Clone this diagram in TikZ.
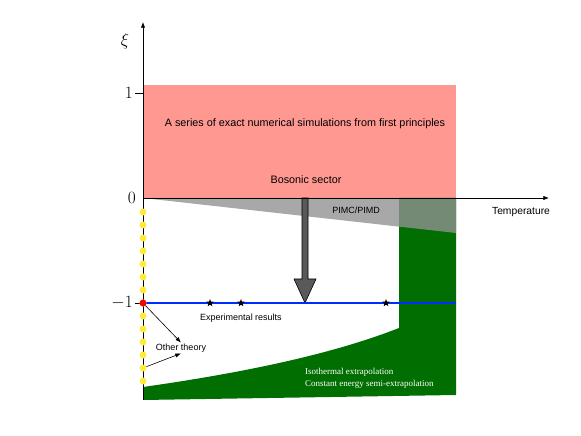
\documentclass[tikz,border=0pt]{standalone}
\usepackage{fontspec}
\setmainfont{Liberation Sans}
\newfontfamily\timesfont{Liberation Serif}
\usetikzlibrary{arrows.meta,shapes.geometric}

\definecolor{simpink}{RGB}{255,152,145}
\definecolor{pimcgray}{RGB}{146,146,146}
\definecolor{extgreen}{RGB}{0,110,0}
\definecolor{exblue}{RGB}{0,45,255}
\definecolor{dotyellow}{RGB}{255,235,60}

\begin{document}
\begin{tikzpicture}[
    x=1pt, y=1pt,
    >=Latex,
    lbl/.style={font=\fontsize{9}{11}\selectfont, inner sep=1pt},
    biglbl/.style={font=\fontsize{10.8}{13}\selectfont, inner sep=1pt},
    axlbl/.style={font=\fontsize{17}{19}\selectfont, inner sep=1pt},
    dot/.style={circle, fill=dotyellow, minimum size=7pt, inner sep=0pt},
    expstar/.style={star, star points=5, star point ratio=2.4,
        fill=black, minimum size=8pt, inner sep=0pt},
]

\useasboundingbox (-143,-238) rectangle (438,198);

% ── Regions ─────────────────────────────────────────────────
\fill[simpink] (0,0) rectangle (313,113);
\fill[extgreen] (256,0) -- (313,0) -- (313,-197) -- (0,-202) -- (0,-189)
    .. controls (120,-172) and (200,-152) .. (256,-130) -- cycle;
\fill[pimcgray, fill opacity=0.8] (0,0) -- (313,0) -- (313,-35) -- cycle;

% ── Big arrow down to xi = -1 ───────────────────────────────
\filldraw[fill=black!65, draw=black, line width=0.6pt]
    (159,0) -- (159,-81) -- (151,-81) -- (162,-105) -- (173,-81)
    -- (165,-81) -- (165,0) -- cycle;

% ── Experimental line ───────────────────────────────────────
\draw[exblue, line width=2.2pt] (0,-105) -- (313,-105);
\foreach \xs [count=\i] in {67, 98, 243} {
    \node[expstar] (star\i) at (\xs,-105) {};
}

% ── Axes ────────────────────────────────────────────────────
\draw[->, line width=0.6pt] (0,-202) -- (0,176);
\draw[->, line width=0.6pt] (0,0) -- (406,0);
\node[axlbl] (xi) at (-18,157) {$\xi$};
\draw[line width=0.6pt] (-8,105) -- (0,105) node[axlbl, pos=0, left=1pt] (one) {$1$};
\draw[line width=0.6pt] (-8,-105) -- (0,-105) node[axlbl, pos=0, left=1pt] (mone) {$-1$};
\node[axlbl, left=6pt] (zero) at (0,0) {$0$};

% ── Dots along the xi axis ──────────────────────────────────
\foreach \i in {0,...,13} {
    \node[dot] (d\i) at (0,{-14-13*\i}) {};
}
\node[dot, fill=red] (dred) at (0,-105) {};

% ── Labels ──────────────────────────────────────────────────
\node[biglbl] (series) at (162,74) {A series of exact numerical simulations from first principles};
\node[biglbl] (boson) at (163,18) {Bosonic sector};
\node[lbl] (pimc) at (213,-12) {PIMC/PIMD};
\node[font=\fontsize{10.3}{12}\selectfont] (temp) at (378,-14) {Temperature};
\node[lbl] (exper) at (98,-120) {Experimental results};
\node[lbl] (theory) at (38,-150) {Other theory};
\node[font=\timesfont\fontsize{9}{11}\selectfont, text=white, anchor=west,
      align=left, inner sep=0pt] (extra) at (162,-180)
    {Isothermal extrapolation\\[1pt]Constant energy semi-extrapolation};

% ── Arrows to other theory ──────────────────────────────────
\draw[->, line width=0.6pt] (dred) -- (theory.north);
\draw[->, line width=0.6pt] (d12) -- (theory.south);

\end{tikzpicture}
\end{document}
